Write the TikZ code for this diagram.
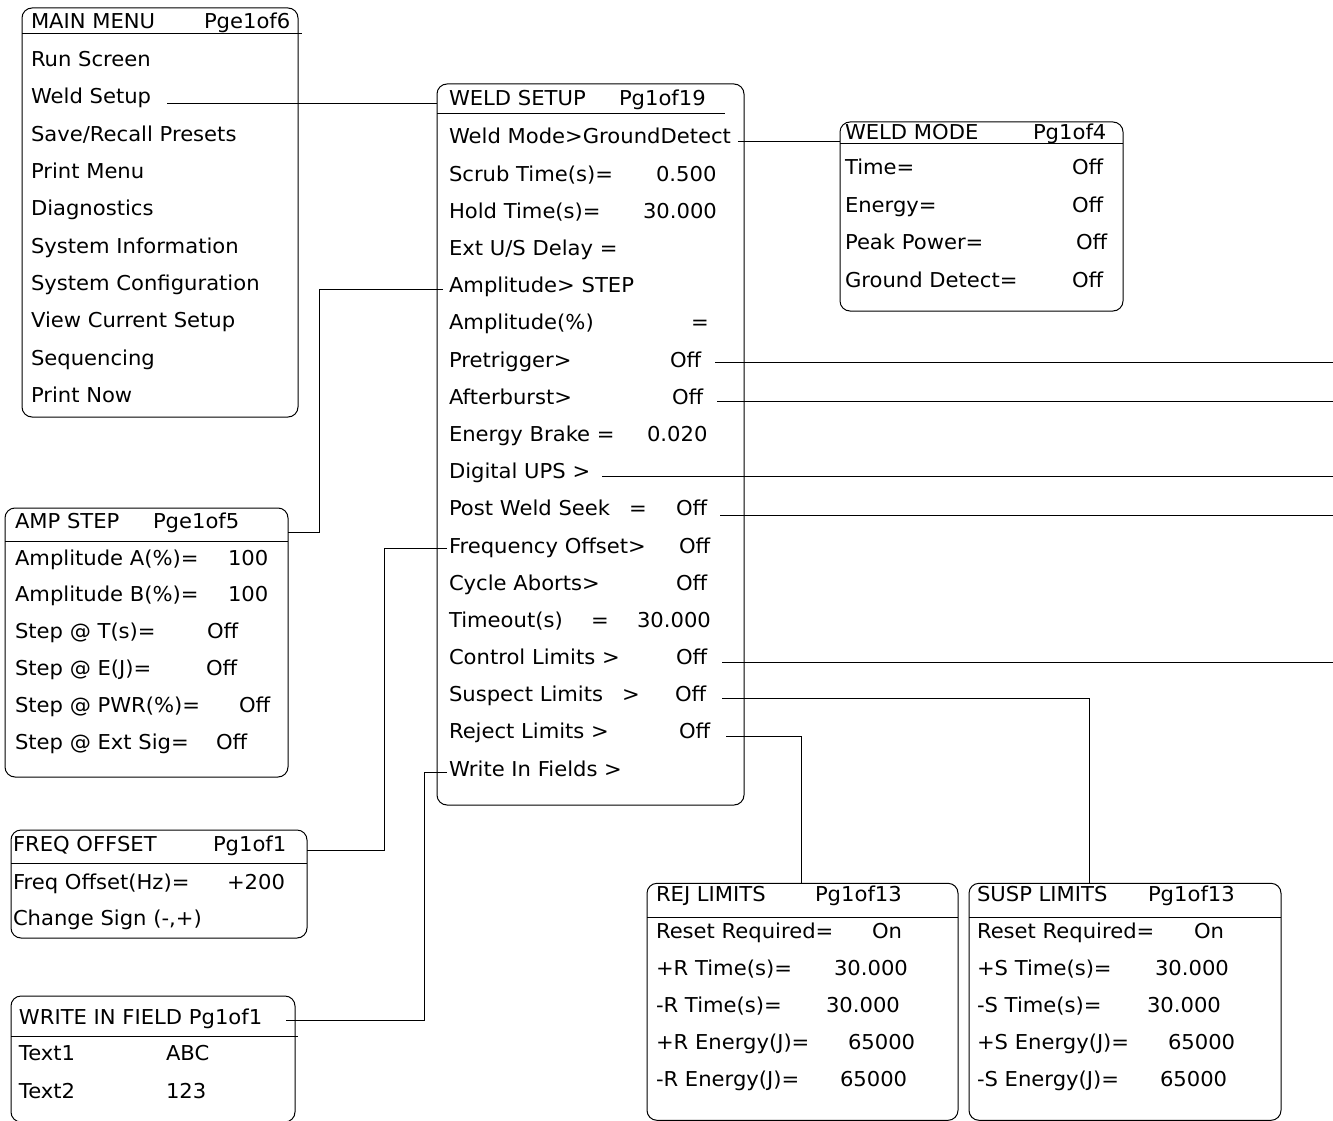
\documentclass[tikz,border=0pt]{standalone}
\usepackage{fontspec}
\setmainfont{DejaVu Sans}[FakeStretch=1.03]
\usetikzlibrary{calc}
\newcommand\myfs{\fontsize{20.5}{24}\selectfont}
\begin{document}
\begin{tikzpicture}[x=1pt,y=-1pt,
  box/.style={draw, rounded corners=10pt, line width=1pt, inner sep=0pt, outer sep=0pt, anchor=north west},
  t/.style={anchor=base west, inner sep=0pt, outer sep=0pt, font=\myfs},
  conn/.style={line width=1pt},
  rule/.style={line width=1pt}]
\useasboundingbox (0,0) rectangle (1333,1121);

% ---------- MAIN MENU ----------
\node[box, minimum width=276pt, minimum height=409pt] (mm) at (22,8) {};
\draw[rule] (22,33.3) -- (302,33.3);
\node[t] (mm-t) at (31,28.3) {MAIN MENU};
\node[t] (mm-p) at (204,28.3) {Pge1of6};
\node[t] (mm1) at (31,66.7) {Run Screen};
\node[t] (mm2) at (31,104) {Weld Setup};
\node[t] (mm3) at (31,141.3) {Save/Recall Presets};
\node[t] (mm4) at (31,178.6) {Print Menu};
\node[t] (mm5) at (31,215.9) {Diagnostics};
\node[t] (mm6) at (31,253.2) {System Information};
\node[t] (mm7) at (31,290.5) {System Configuration};
\node[t] (mm8) at (31,327.8) {View Current Setup};
\node[t] (mm9) at (31,365.1) {Sequencing};
\node[t] (mm10) at (31,402.4) {Print Now};

% ---------- WELD SETUP ----------
\node[box, minimum width=307pt, minimum height=721pt] (ws) at (437,84) {};
\draw[rule] (437,113.3) -- (725,113.3);
\node[t] (ws-t) at (449,106) {WELD SETUP};
\node[t] (ws-p) at (619,106) {Pg1of19};
\node[t] (ws0) at (449,144) {Weld Mode>GroundDetect};
\node[t] (ws1) at (449,181.2) {Scrub Time(s)=};
\node[t] (ws1v) at (656,181.2) {0.500};
\node[t] (ws2) at (449,218.4) {Hold Time(s)=};
\node[t] (ws2v) at (643,218.4) {30.000};
\node[t] (ws3) at (449,255.5) {Ext U/S Delay =};
\node[t] (ws4) at (449,292.7) {Amplitude> STEP};
\node[t] (ws5) at (449,329.9) {Amplitude(\%)};
\node[t] (ws5v) at (691,329.9) {=};
\node[t] (ws6) at (449,367.1) {Pretrigger>};
\node[t] (ws6v) at (670,367.1) {Off};
\node[t] (ws7) at (449,404.3) {Afterburst>};
\node[t] (ws7v) at (672,404.3) {Off};
\node[t] (ws8) at (449,441.4) {Energy Brake =};
\node[t] (ws8v) at (647,441.4) {0.020};
\node[t] (ws9) at (449,478.6) {Digital UPS >};
\node[t] (ws10) at (449,515.8) {Post Weld Seek};
\node[t] (ws10e) at (629,515.8) {=};
\node[t] (ws10v) at (676,515.8) {Off};
\node[t] (ws11) at (449,553) {Frequency Offset>};
\node[t] (ws11v) at (679,553) {Off};
\node[t] (ws12) at (449,590.2) {Cycle Aborts>};
\node[t] (ws12v) at (676,590.2) {Off};
\node[t] (ws13) at (449,627.3) {Timeout(s)};
\node[t] (ws13e) at (591,627.3) {=};
\node[t] (ws13v) at (637,627.3) {30.000};
\node[t] (ws14) at (449,664.5) {Control Limits >};
\node[t] (ws14v) at (676,664.5) {Off};
\node[t] (ws15) at (449,701.7) {Suspect Limits};
\node[t] (ws15g) at (622,701.7) {>};
\node[t] (ws15v) at (675,701.7) {Off};
\node[t] (ws16) at (449,738.9) {Reject Limits >};
\node[t] (ws16v) at (679,738.9) {Off};
\node[t] (ws17) at (449,776.1) {Write In Fields >};

% ---------- WELD MODE ----------
\node[box, minimum width=283pt, minimum height=189pt] (wm) at (840,122) {};
\draw[rule] (840,143.5) -- (1123,143.5);
\node[t] (wm-t) at (845,139.5) {WELD MODE};
\node[t] (wm-p) at (1033,139.5) {Pg1of4};
\node[t] (wm1) at (845,175) {Time=};
\node[t] (wm1v) at (1072,175) {Off};
\node[t] (wm2) at (845,212.3) {Energy=};
\node[t] (wm2v) at (1072,212.3) {Off};
\node[t] (wm3) at (845,249.6) {Peak Power=};
\node[t] (wm3v) at (1076,249.6) {Off};
\node[t] (wm4) at (845,287) {Ground Detect=};
\node[t] (wm4v) at (1072,287) {Off};

% ---------- AMP STEP ----------
\node[box, minimum width=283pt, minimum height=269pt] (as) at (5,508) {};
\draw[rule] (5,541.7) -- (288,541.7);
\node[t] (as-t) at (15,528.3) {AMP STEP};
\node[t] (as-p) at (153,528.3) {Pge1of5};
\node[t] (as1) at (15,565) {Amplitude A(\%)=};
\node[t] (as1v) at (228,565) {100};
\node[t] (as2) at (15,601.8) {Amplitude B(\%)=};
\node[t] (as2v) at (228,601.8) {100};
\node[t] (as3) at (15,638.6) {Step @ T(s)=};
\node[t] (as3v) at (207,638.6) {Off};
\node[t] (as4) at (15,675.4) {Step @ E(J)=};
\node[t] (as4v) at (206,675.4) {Off};
\node[t] (as5) at (15,712.2) {Step @ PWR(\%)=};
\node[t] (as5v) at (239,712.2) {Off};
\node[t] (as6) at (15,749) {Step @ Ext Sig=};
\node[t] (as6v) at (216,749) {Off};

% ---------- FREQ OFFSET ----------
\node[box, minimum width=296pt, minimum height=108pt] (fo) at (11,830) {};
\draw[rule] (11,863.3) -- (307,863.3);
\node[t] (fo-t) at (13,851.7) {FREQ OFFSET};
\node[t] (fo-p) at (213,851.7) {Pg1of1};
\node[t] (fo1) at (13,889) {Freq Offset(Hz)=};
\node[t] (fo1v) at (227,889) {+200};
\node[t] (fo2) at (13,925) {Change Sign (-,+)};

% ---------- WRITE IN FIELD ----------
\node[box, minimum width=284pt, minimum height=126pt] (wi) at (11,996) {};
\draw[rule] (11,1036.7) -- (298,1036.7);
\node[t] (wi-t) at (19,1024) {WRITE IN FIELD Pg1of1};
\node[t] (wi1) at (19,1060.5) {Text1};
\node[t] (wi1v) at (166,1060.5) {ABC};
\node[t] (wi2) at (19,1098) {Text2};
\node[t] (wi2v) at (166,1098) {123};

% ---------- REJ LIMITS ----------
\node[box, minimum width=311pt, minimum height=237pt] (rj) at (647,883.3) {};
\draw[rule] (647,917.7) -- (958,917.7);
\node[t] (rj-t) at (656,901.7) {REJ LIMITS};
\node[t] (rj-p) at (815,901.7) {Pg1of13};
\node[t] (rj1) at (656,938.3) {Reset Required=};
\node[t] (rj1v) at (872,938.3) {On};
\node[t] (rj2) at (656,975.3) {+R Time(s)=};
\node[t] (rj2v) at (834,975.3) {30.000};
\node[t] (rj3) at (656,1012.3) {-R Time(s)=};
\node[t] (rj3v) at (826,1012.3) {30.000};
\node[t] (rj4) at (656,1049.3) {+R Energy(J)=};
\node[t] (rj4v) at (848,1049.3) {65000};
\node[t] (rj5) at (656,1086.3) {-R Energy(J)=};
\node[t] (rj5v) at (840,1086.3) {65000};

% ---------- SUSP LIMITS ----------
\node[box, minimum width=312pt, minimum height=237pt] (ss) at (969,883.3) {};
\draw[rule] (969,917.7) -- (1281,917.7);
\node[t] (ss-t) at (977,901.7) {SUSP LIMITS};
\node[t] (ss-p) at (1148,901.7) {Pg1of13};
\node[t] (ss1) at (977,938.3) {Reset Required=};
\node[t] (ss1v) at (1194,938.3) {On};
\node[t] (ss2) at (977,975.3) {+S Time(s)=};
\node[t] (ss2v) at (1155,975.3) {30.000};
\node[t] (ss3) at (977,1012.3) {-S Time(s)=};
\node[t] (ss3v) at (1147,1012.3) {30.000};
\node[t] (ss4) at (977,1049.3) {+S Energy(J)=};
\node[t] (ss4v) at (1168,1049.3) {65000};
\node[t] (ss5) at (977,1086.3) {-S Energy(J)=};
\node[t] (ss5v) at (1160,1086.3) {65000};

% ---------- connectors ----------
\coordinate (edge) at (1333,0);
\coordinate (k1) at (319,532);
\coordinate (k2) at (384,850);
\coordinate (k3) at (424,1020);
\coordinate (k4) at (801,0);
\coordinate (k5) at (1089,0);

\draw[conn] ([xshift=16pt]mm2.base east) coordinate (c1) -- (c1 -| ws.west);
\draw[conn] ([shift={(7pt,2pt)}]ws0.base east) coordinate (c2) -- (c2 -| wm.west);
\draw[conn] ([shift={(-6pt,3pt)}]ws4.base west) coordinate (c3) -- (c3 -| k1) -- (k1) -- (k1 -| as.east);
\draw[conn] ([shift={(-2pt,5pt)}]ws11.base west) coordinate (c4) -- (c4 -| k2) -- (k2) -- (k2 -| fo.east);
\draw[conn] ([shift={(-2pt,4pt)}]ws17.base west) coordinate (c5) -- (c5 -| k3) -- (k3) -- ([xshift=24pt]k3 -| wi-t.east);
\draw[conn] ([shift={(14pt,5pt)}]ws6v.base east) coordinate (c6) -- (c6 -| edge);
\draw[conn] ([shift={(14pt,3pt)}]ws7v.base east) coordinate (c7) -- (c7 -| edge);
\draw[conn] ([shift={(12pt,2pt)}]ws9.base east) coordinate (c8) -- (c8 -| edge);
\draw[conn] ([shift={(13pt,0pt)}]ws10v.base east) coordinate (c9) -- (c9 -| edge);
\draw[conn] ([shift={(15pt,2pt)}]ws14v.base east) coordinate (c10) -- (c10 -| edge);
\draw[conn] ([shift={(16pt,3pt)}]ws15v.base east) coordinate (c11) -- (c11 -| k5) -- (k5 |- ss.north);
\draw[conn] ([shift={(16pt,2pt)}]ws16v.base east) coordinate (c12) -- (c12 -| k4) -- (k4 |- rj.north);
\end{tikzpicture}
\end{document}
